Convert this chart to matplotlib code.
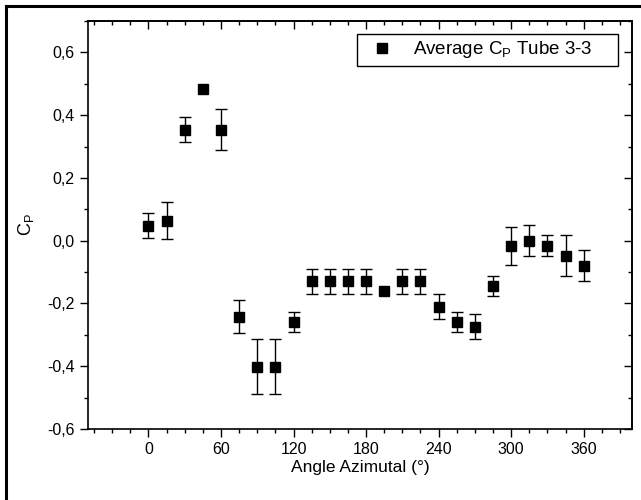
import matplotlib
matplotlib.use("Agg")
import matplotlib.pyplot as plt
from matplotlib.lines import Line2D
from matplotlib.patches import Rectangle
from matplotlib.ticker import MultipleLocator, FuncFormatter

plt.rcParams["font.family"] = ["Liberation Sans", "DejaVu Sans"]
plt.rcParams["mathtext.fontset"] = "custom"
plt.rcParams["mathtext.rm"] = "Liberation Sans"

# azimuthal angle (deg), mean pressure coefficient and its spread
angle = [0, 15, 30, 45, 60, 75, 90, 105, 120, 135, 150, 165, 180,
         195, 210, 225, 240, 255, 270, 285, 300, 315, 330, 345, 360]
cp_mean = [0.048, 0.064, 0.354, 0.484, 0.354, -0.242, -0.401, -0.401, -0.258,
           -0.129, -0.129, -0.129, -0.129, -0.161, -0.129, -0.129, -0.210,
           -0.258, -0.274, -0.145, -0.016, 0.000, -0.016, -0.048, -0.080]
cp_err = [0.039, 0.060, 0.040, 0.0, 0.065, 0.052, 0.088, 0.088, 0.032,
          0.040, 0.040, 0.040, 0.040, 0.0, 0.040, 0.040, 0.040,
          0.032, 0.040, 0.032, 0.060, 0.050, 0.033, 0.065, 0.050]

W, H = 641, 500
fig = plt.figure(figsize=(W / 100, H / 100), dpi=100)
ax = fig.add_axes([88 / W, 1 - 429 / H, (632 - 88) / W, (429 - 21) / H])

# error bars only where there is a spread
idx = [i for i, e in enumerate(cp_err) if e > 0]
ax.errorbar([angle[i] for i in idx], [cp_mean[i] for i in idx],
            yerr=[cp_err[i] for i in idx], fmt="none", ecolor="black",
            elinewidth=1, capsize=4, capthick=1)
ax.plot(angle, cp_mean, "s", color="black", markersize=6.5,
        label=r"Average C$_\mathregular{P}$ Tube 3-3")

ax.set_xlim(-50, 400)
ax.set_ylim(-0.6, 0.7)
ax.xaxis.set_major_locator(MultipleLocator(60))
ax.xaxis.set_minor_locator(MultipleLocator(15))
ax.yaxis.set_major_locator(MultipleLocator(0.2))
ax.yaxis.set_minor_locator(MultipleLocator(0.1))
ax.yaxis.set_major_formatter(FuncFormatter(lambda v, p: f"{v:.1f}".replace(".", ",").replace("-0,0", "0,0")))

ax.tick_params(which="both", direction="out", top=False, right=False, labelsize=11.5, width=1)
ax.tick_params(which="major", length=6)
ax.tick_params(which="minor", length=3)

# inward ticks on the top and right edges
sec_x = ax.secondary_xaxis("top")
sec_x.xaxis.set_major_locator(MultipleLocator(60))
sec_x.xaxis.set_minor_locator(MultipleLocator(15))
sec_x.tick_params(which="both", direction="in", labeltop=False, width=1)
sec_x.tick_params(which="major", length=6)
sec_x.tick_params(which="minor", length=3)
sec_y = ax.secondary_yaxis("right")
sec_y.yaxis.set_major_locator(MultipleLocator(0.2))
sec_y.yaxis.set_minor_locator(MultipleLocator(0.1))
sec_y.tick_params(which="both", direction="in", labelright=False, width=1)
sec_y.tick_params(which="major", length=6)
sec_y.tick_params(which="minor", length=3)

for sp in ax.spines.values():
    sp.set_linewidth(1.2)
sec_x.spines["top"].set_linewidth(1.2)
sec_y.spines["right"].set_linewidth(1.2)

ax.set_xlabel("Angle Azimutal (°)", fontsize=12.5, labelpad=2)
ax.set_ylabel(r"C$_\mathregular{P}$", fontsize=13, labelpad=8)

# legend entry without its own frame, boxed separately for wider side padding
leg = ax.legend(loc="center left", bbox_to_anchor=(370.75 / W, 1 - 50 / H),
                bbox_transform=fig.transFigure, fontsize=13.5, frameon=False,
                borderpad=0, handletextpad=1.05, handlelength=1.2,
                borderaxespad=0)
fig.add_artist(Rectangle((357 / W, 1 - 66 / H), (618 - 357) / W, 32 / H,
                         transform=fig.transFigure, fill=False,
                         edgecolor="black", linewidth=1))

# outer frame of the figure
fig.add_artist(Line2D([6 / W, 6 / W], [0, 1 - 6 / H], transform=fig.transFigure,
                      color="black", linewidth=2.2))
fig.add_artist(Line2D([6 / W, 1], [1 - 6 / H, 1 - 6 / H], transform=fig.transFigure,
                      color="black", linewidth=2.2))

fig.savefig("out.png", dpi=100)
